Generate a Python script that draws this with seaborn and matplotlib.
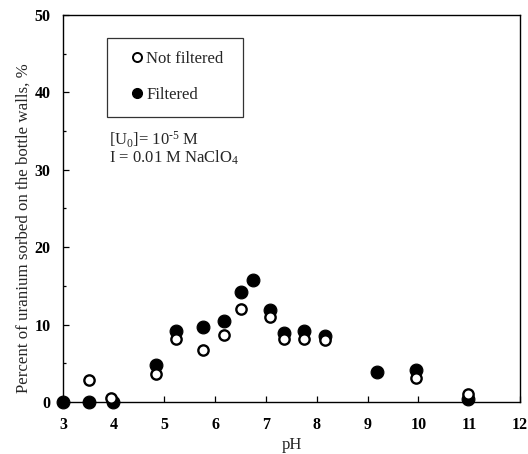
import matplotlib
matplotlib.use("Agg")
import matplotlib.pyplot as plt
import seaborn as sns
import pandas as pd
from matplotlib.lines import Line2D
from matplotlib.ticker import MultipleLocator

ph_filtered = [3.0, 3.52, 3.98, 4.84, 5.23, 5.75, 6.17, 6.51, 6.75, 7.07, 7.35, 7.74, 8.16, 9.19, 9.95, 10.98]
pct_filtered = [0.0, 0.0, 0.0, 4.8, 9.2, 9.65, 10.5, 14.25, 15.8, 11.9, 8.95, 9.2, 8.5, 3.9, 4.1, 0.4]

ph_notfilt = [3.52, 3.95, 4.84, 5.23, 5.75, 6.17, 6.51, 7.07, 7.35, 7.74, 8.16, 9.95, 10.98]
pct_notfilt = [2.8, 0.5, 3.6, 8.1, 6.7, 8.6, 12.0, 11.0, 8.1, 8.1, 8.0, 3.1, 1.0]

x_ticks = [3, 4, 5, 6, 7, 8, 9, 10, 11, 12]
y_ticks = [0, 10, 20, 30, 40, 50]

df_f = pd.DataFrame({"pH": ph_filtered, "pct": pct_filtered})
df_n = pd.DataFrame({"pH": ph_notfilt, "pct": pct_notfilt})

sns.set_theme(style="ticks")
plt.rcParams['font.family'] = ['Liberation Serif', 'DejaVu Serif']
plt.rcParams['mathtext.fontset'] = 'custom'
plt.rcParams['mathtext.rm'] = 'Liberation Serif'
plt.rcParams['mathtext.it'] = 'Liberation Serif:italic'

fig = plt.figure(figsize=(5.28, 4.54), dpi=100)
ax = fig.add_axes([0.119, 0.1145, 0.866, 0.8525])

sns.scatterplot(data=df_f, x="pH", y="pct", ax=ax, marker="o", s=85,
                color="black", edgecolor="black", linewidth=0.8, clip_on=False, zorder=3, legend=False)
sns.scatterplot(data=df_n, x="pH", y="pct", ax=ax, marker="o", s=55,
                facecolor="white", edgecolor="black", linewidth=1.7, clip_on=False, zorder=4, legend=False)

ax.set_xlim(3, 12)
ax.set_ylim(0, 50)
ax.set_xticks(x_ticks)
ax.set_yticks(y_ticks)
ax.yaxis.set_minor_locator(MultipleLocator(5))
ax.tick_params(which="both", direction="in", labelsize=11.5, colors="black")
ax.tick_params(which="major", length=4, width=0.9)
ax.tick_params(which="minor", length=2.5, width=0.9)
ax.tick_params(axis="y", which="major", pad=9)
ax.tick_params(axis="x", which="major", pad=11)
for lab in ax.get_xticklabels() + ax.get_yticklabels():
    lab.set_fontweight("bold")
for s in ax.spines.values():
    s.set_linewidth(1.0)
    s.set_color("black")

ax.set_xlabel("pH", fontsize=12, labelpad=3)
ax.set_ylabel("Percent of uranium sorbed on the bottle walls, %", fontsize=12.2)
ax.yaxis.set_label_coords(-0.068, 0.45)

handles = [
    Line2D([], [], marker="o", linestyle="none", markerfacecolor="white",
           markeredgecolor="black", markersize=6.5, markeredgewidth=1.4, label="Not filtered"),
    Line2D([], [], marker="o", linestyle="none", markerfacecolor="black",
           markeredgecolor="black", markersize=7, label="Filtered"),
]
leg = ax.legend(handles=handles, loc="upper left",
                bbox_to_anchor=(0.0963, 0.7390, 0.298, 0.2016), mode="expand",
                frameon=True, fancybox=False, edgecolor="black", fontsize=12,
                handlelength=2.0, handletextpad=-0.45, borderpad=0.8, labelspacing=1.2,
                borderaxespad=0)
leg.get_frame().set_linewidth(0.9)

ax.text(0.1007, 0.677, r"[U$_0$]= 10$^{\text{-5}}$ M", transform=ax.transAxes, fontsize=12, va="center")
ax.text(0.1007, 0.631, r"I = 0.01 M NaClO$_4$", transform=ax.transAxes, fontsize=12, va="center")

fig.savefig("out.png", dpi=100)
